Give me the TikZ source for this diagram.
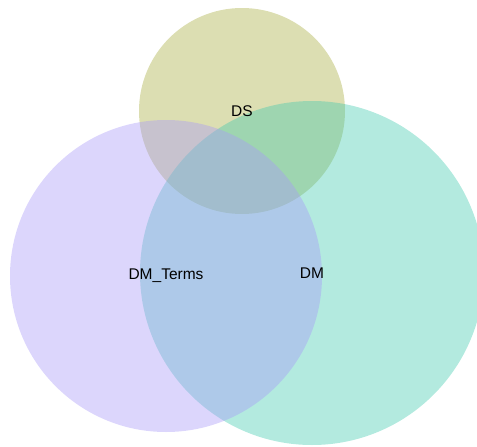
\documentclass[tikz,border=0pt]{standalone}
\usepackage{xcolor}
\usepackage{fontspec}
\setmainfont{Liberation Sans}
\usepackage{tikz}
\usetikzlibrary{positioning}

\definecolor{dscol}{RGB}{168,172,62}
\definecolor{dmcol}{RGB}{65,202,175}
\definecolor{termcol}{RGB}{168,153,248}

\begin{document}
\begin{tikzpicture}[
    x=1pt, y=-1pt,
    setcirc/.style={circle, inner sep=0pt, fill opacity=0.4},
    setlabel/.style={font=\fontsize{15.5}{18}\selectfont, text=black},
]
\useasboundingbox (0,0) rectangle (477,447);
\clip (0,0) rectangle (477,447);

% DS set (top)
\node[setcirc, fill=dscol, minimum size=206pt] (ds) at (242,111) {};

% DM set (right)
\node[setcirc, fill=dmcol, minimum size=344pt] (dm) at (312,273) {};

% DM_Terms set (left)
\node[setcirc, fill=termcol, minimum size=312pt] (terms) at (166,276) {};

% Labels
\node[setlabel] (dslabel) at (ds.center) {DS};
\node[setlabel] (dmlabel) at (dm.center) {DM};
\node[setlabel] (termslabel) at (terms.center) {DM\_Terms};

\end{tikzpicture}
\end{document}
